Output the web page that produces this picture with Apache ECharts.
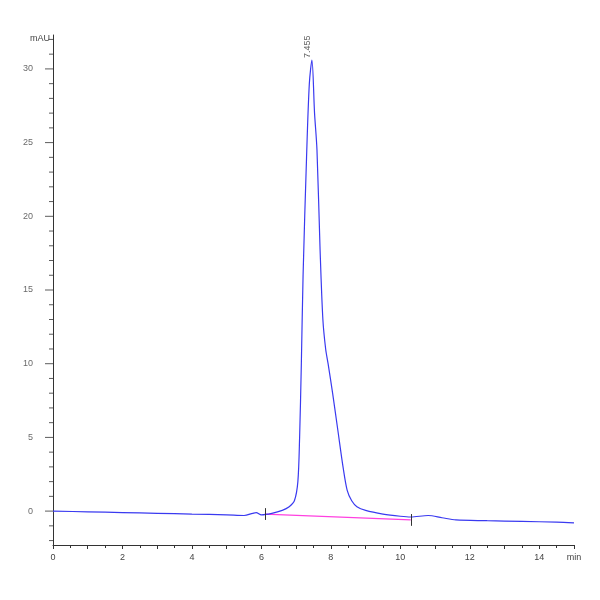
<!DOCTYPE html>
<html><head><meta charset="utf-8">
<script src="https://cdn.jsdelivr.net/npm/echarts@6/dist/echarts.min.js"></script>
<style>html,body{margin:0;background:#fff}#c{width:600px;height:600px}</style>
</head><body><div id="c"></div>
<script>
// retention time (min) and signal (mAU)
const times = [0, 1, 2, 3, 4, 5, 5.5, 5.75, 5.85, 6.0, 6.3, 6.6, 6.8, 6.95, 7.05, 7.1, 7.15, 7.2, 7.3, 7.38, 7.455, 7.53, 7.6, 7.69, 7.77, 7.85, 7.92, 8.05, 8.2, 8.35, 8.47, 8.6, 8.75, 9.0, 9.5, 10.0, 10.3, 10.8, 11.2, 11.6, 12.5, 13.5, 14.5, 15];
const signal = [0, -0.05, -0.1, -0.15, -0.2, -0.25, -0.3, -0.15, -0.1, -0.25, -0.15, 0.05, 0.3, 0.7, 2.0, 5, 10, 16, 24, 29, 30.6, 27, 24.5, 17.7, 13, 11, 10, 8, 5.5, 3, 1.4, 0.7, 0.3, 0.05, -0.2, -0.35, -0.4, -0.3, -0.45, -0.6, -0.65, -0.7, -0.75, -0.8];
const baseline = [[6.1, -0.2], [10.3, -0.6]];
const peakTime = 7.455, peakLabel = '7.455';
const xTicks = [0, 2, 4, 6, 8, 10, 12, 14];
const yTicks = [0, 5, 10, 15, 20, 25, 30];
const yMinorTicks = [-2, -1, 1, 2, 3, 4, 6, 7, 8, 9, 11, 12, 13, 14, 16, 17, 18, 19, 21, 22, 23, 24, 26, 27, 28, 29, 31, 32];

const chart = echarts.init(document.getElementById('c'));
const lbl = {color: '#444', fontSize: 9, fontFamily: 'Liberation Sans'};
chart.setOption({
  animation: false,
  grid: {left: 53, right: 26, top: 35, bottom: 55},
  xAxis: {
    type: 'value', min: 0, max: 15, interval: 1,
    axisLine: {onZero: false, lineStyle: {color: '#333'}},
    axisTick: {lineStyle: {color: '#333'}, length: 4},
    minorTick: {show: true, splitNumber: 2, length: 3, lineStyle: {color: '#333'}},
    splitLine: {show: false},
    axisLabel: Object.assign({}, lbl, {
      formatter: v => v === 15 ? 'min' : (xTicks.includes(v) ? String(v) : '')
    })
  },
  yAxis: {
    type: 'value', min: -2.3, max: 32.3,
    axisLine: {show: true, lineStyle: {color: '#333'}},
    axisTick: {show: false},
    splitLine: {show: false},
    axisLabel: {show: false}
  },
  series: [
    {type: 'line', data: times.map((t, i) => [t, signal[i]]), symbol: 'none', smooth: 0.3,
     lineStyle: {color: '#3a3af0', width: 1.2}, z: 3},
    {type: 'line', data: baseline, symbol: 'none', lineStyle: {color: '#ff40e0', width: 1.2}, z: 2,
     markLine: {symbol: 'none', silent: true, label: {show: false}, lineStyle: {color: '#333', width: 1, type: 'solid'},
       data: baseline.map(p => [{coord: [p[0], p[1] + 0.4]}, {coord: [p[0], p[1] - 0.4]}])}},
    {type: 'scatter', data: [[peakTime, 30.6]], symbolSize: 0,
     label: {show: true, position: 'top', rotate: 90, distance: 2, formatter: peakLabel, color: '#333', fontSize: 9, align: 'left'}},
    // y tick labels and ticks drawn on the y axis
    {type: 'scatter', data: yTicks.map(v => [0, v]), symbol: 'rect', symbolSize: [8, 1], symbolOffset: [-4, 0],
     itemStyle: {color: '#333'}, silent: true,
     label: {show: true, position: 'left', distance: 12, formatter: p => String(p.value[1]), color: '#444', fontSize: 9}},
    {type: 'scatter', data: yMinorTicks.map(v => [0, v]), symbol: 'rect', symbolSize: [4, 1], symbolOffset: [-2, 0],
     itemStyle: {color: '#333'}, silent: true}
  ],
  graphic: [{type: 'text', left: 30, top: 34, style: {text: 'mAU', fill: '#444', font: '9px Liberation Sans'}}]
});
</script></body></html>
